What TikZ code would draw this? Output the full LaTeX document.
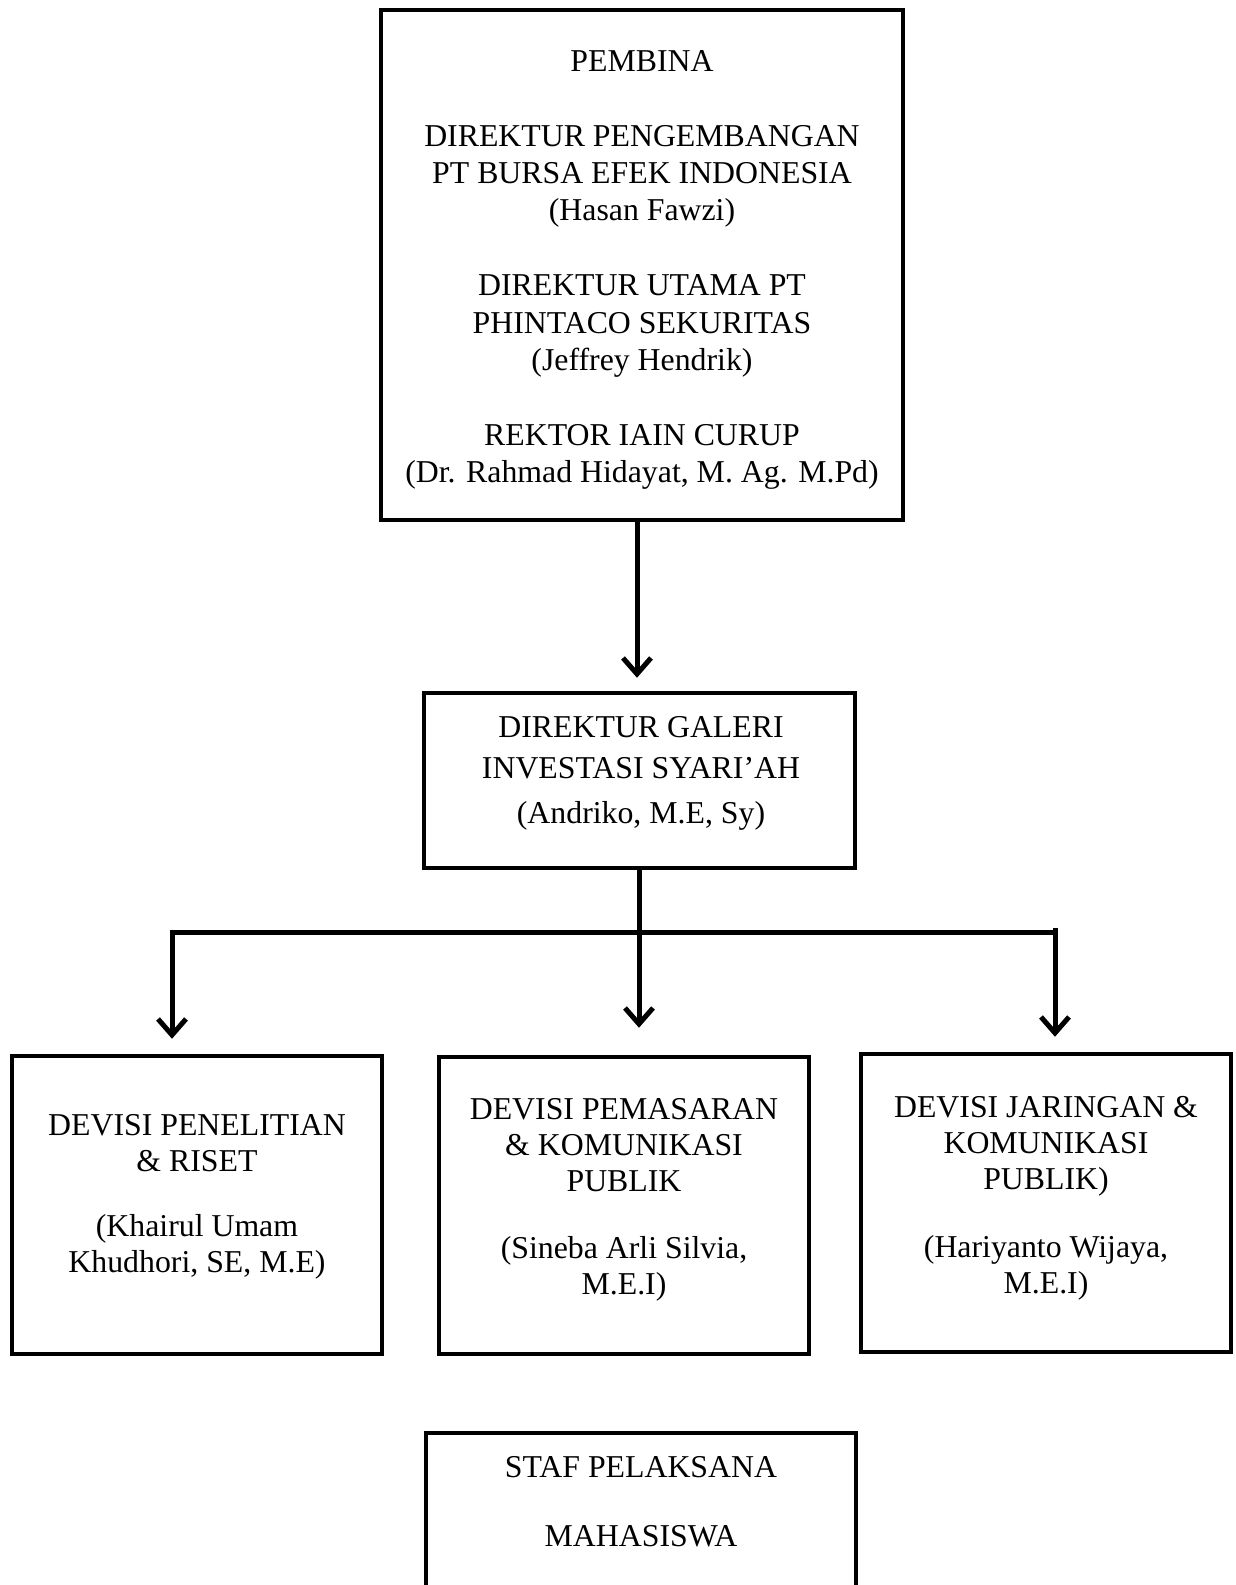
\documentclass[tikz,border=0pt]{standalone}
\usepackage{fontspec}
\setmainfont{Liberation Serif}
\usetikzlibrary{arrows.meta}
\begin{document}
\begin{tikzpicture}[x=1pt,y=-1pt,
  box/.style={draw, line width=4.5pt, inner sep=0pt},
  txt/.style={align=center, inner sep=0pt, font=\fontsize{31.8}{37.4}\selectfont},
  ln/.style={line width=5pt},
  arr/.style={line width=5pt, -{Straight Barb[length=16pt,width=28pt]}}]
\useasboundingbox (0,0) rectangle (1235,1585);

\node[box, minimum width=522pt, minimum height=510pt] (top) at (642,265) {};
\node[txt] (toptxt) at (642,270)
  {PEMBINA\\[37.4pt]
   DIREKTUR PENGEMBANGAN\\
   PT BURSA EFEK INDONESIA\\
   (Hasan Fawzi)\\[37.4pt]
   DIREKTUR UTAMA PT\\
   PHINTACO SEKURITAS\\
   (Jeffrey Hendrik)\\[37.4pt]
   REKTOR IAIN CURUP\\
   (Dr. Rahmad Hidayat, M. Ag. M.Pd)};

\node[box, minimum width=431pt, minimum height=175pt] (dir) at (639.5,780.5) {};
\node[txt, font=\fontsize{31.8}{41}\selectfont] (dirtxt) at (641,773)
  {DIREKTUR GALERI\\
   INVESTASI SYARI'AH\\[4pt]
   (Andriko, M.E, Sy)};

\node[box, minimum width=370pt, minimum height=298pt] (left) at (197,1205) {};
\node[txt, font=\fontsize{31.8}{36}\selectfont] (lefttxt) at (197,1197)
  {DEVISI PENELITIAN\\
   \& RISET\\[29pt]
   (Khairul Umam\\
   Khudhori, SE, M.E)};

\node[box, minimum width=370pt, minimum height=297pt] (mid) at (624,1205.5) {};
\node[txt, font=\fontsize{31.8}{36}\selectfont] (midtxt) at (624,1199.5)
  {DEVISI PEMASARAN\\
   \& KOMUNIKASI\\
   PUBLIK\\[31pt]
   (Sineba Arli Silvia,\\
   M.E.I)};

\node[box, minimum width=370pt, minimum height=298pt] (right) at (1046,1203) {};
\node[txt, font=\fontsize{31.8}{36}\selectfont] (righttxt) at (1046,1198)
  {DEVISI JARINGAN \&\\
   KOMUNIKASI\\
   PUBLIK)\\[32pt]
   (Hariyanto Wijaya,\\
   M.E.I)};

\node[box, minimum width=430pt, minimum height=240pt] (staf) at (641,1553) {};
\node[txt, font=\fontsize{31.8}{69}\selectfont, anchor=north] (staftxt) at (641,1456)
  {STAF PELAKSANA\\
   MAHASISWA};

\coordinate (a1) at (637,0);
\coordinate (mx) at (639,0);
\coordinate (lk) at (172,932);
\coordinate (rk) at (1055,928);

\draw[arr, shorten >=13pt] (top.south -| a1) -- (dir.north -| a1);
\draw[arr, shorten >=27pt] (dir.south -| mx) -- (mid.north -| mx);
\draw[arr, shorten >=15pt] (rk |- lk) -- (lk) -- (left.north -| lk);
\draw[arr, shorten >=15pt] (rk) -- (right.north -| rk);
\end{tikzpicture}
\end{document}
